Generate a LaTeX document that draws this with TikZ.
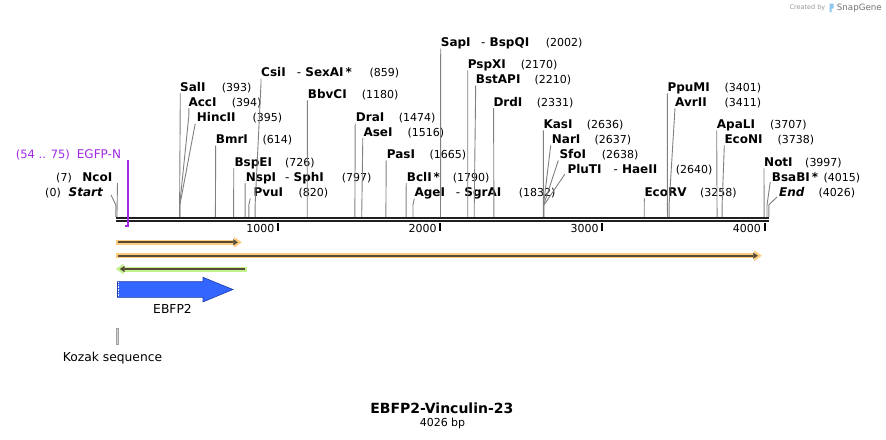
\documentclass[tikz,border=0pt]{standalone}
\usepackage{fontspec}
\setmainfont{DejaVu Sans}
\usetikzlibrary{arrows.meta,calc,positioning}
\definecolor{primerpurple}{RGB}{160,40,230}
\definecolor{orfband}{RGB}{255,204,128}
\definecolor{orfgreen}{RGB}{194,240,140}
\definecolor{orfdark}{RGB}{85,75,55}
\definecolor{ebfpblue}{RGB}{51,102,255}
\definecolor{ebfpedge}{RGB}{30,60,170}
\definecolor{logoblue}{RGB}{140,200,240}
\tikzset{
    enz/.style={font=\fontsize{12}{14}\selectfont\bfseries, inner sep=0pt, anchor=base west},
    endmark/.style={enz, font=\fontsize{12}{14}\selectfont\bfseries\itshape},
    bpnum/.style={font=\fontsize{11}{13}\selectfont, inner sep=0pt, anchor=base west},
    siteline/.style={draw=black!50, line width=0.9pt},
    strand/.style={draw=black!88, line width=2.3pt},
    tickmark/.style={draw=black, line width=2pt},
    featlabel/.style={font=\fontsize{12.3}{14}\selectfont, inner sep=0pt},
    primer/.style={draw=primerpurple, line width=1.8pt},
    orfwide/.style={draw=#1, line width=5pt, -{Triangle[width=10.5pt,length=7.5pt,line width=0.1pt]}},
    orfthin/.style={draw=orfdark, line width=2pt, -{Triangle[width=6pt,length=4.5pt,line width=0.1pt]}}
}

\begin{document}
\begin{tikzpicture}[x=1pt, y=-1pt]
    \useasboundingbox[fill=white] (0,0) rectangle (886,439);

    % positions on the backbone
    \foreach \bp in {0,7,393,394,395,614,726,797,820,859,1180,1474,1516,1665,1790,1832,
                     2002,2170,2210,2331,2636,2637,2638,2640,3258,3401,3411,3707,3738,3997,4015,4026} {
        \coordinate (c\bp) at ({115.8+0.1622*\bp},216.8);
        \coordinate (k\bp) at ({115.8+0.1622*\bp},205);
    }

    % backbone
    \coordinate (bbleft) at (116,217.8);
    \coordinate (bbright) at (769,217.8);
    \draw[strand] (bbleft) -- (bbright);
    \draw[strand] ([yshift=-3.4pt]bbleft) -- ([yshift=-3.4pt]bbright);
    \foreach \t in {1000,2000,3000,4000} {
        \draw[tickmark] ({115.8+0.1622*\t},222.5) -- ++(0,8);
        \node[bpnum, anchor=base east] (tl\t) at ({112.3+0.1622*\t},232.5) {\t};
    }

    % ends
    \node[endmark, anchor=base east] (start) at (103,196.4) {Start};
    \node[bpnum, anchor=base east] (startbp) at (61,196.4) {(0)};
    \draw[siteline] (start.base east) ++(8,-1.5) -- (k0) -- (c0);
    \node[endmark] (endsite) at (779,196.4) {End};
    \node[bpnum] (endsitebp) at (818.3,196.4) {(4026)};
    \draw[siteline] (endsite.base west) ++(-2,0.5) -- (k4026) -- (c4026);

    % primer
    \node[bpnum, font=\fontsize{11.5}{13}\selectfont, text=primerpurple] (egfpNbp) at (15.7,158.4) {(54 .. 75)};
    \node[bpnum, font=\fontsize{12}{14}\selectfont, text=primerpurple] (egfpN) at (76.7,158.4) {EGFP-N};
    \coordinate (pr75) at (128.3,226.3);
    \coordinate (pr54) at (124.8,226.3);
    \draw[primer] (pr75 |- egfpN.base) ++(0,1.5) -- (pr75) -- (pr54);

    % enzyme sites
    \node[enz, anchor=base east] (ncoI) at (112.5,181.1) {NcoI};
    \node[bpnum, anchor=base east] (ncoIbp) at (72,181.1) {(7)};
    \draw[siteline] (ncoI.base east) ++(5,2) -- (c7);

    \node[enz] (salI) at (180,91.3) {SalI};
    \node[bpnum] (salIbp) at (221.7,91.3) {(393)};
    \draw[siteline] (salI.base west) ++(0.3,2) -- (c393);
    \node[enz] (accI) at (188.3,106.2) {AccI};
    \node[bpnum] (accIbp) at (231.7,106.2) {(394)};
    \draw[siteline] (accI.base west) ++(0.5,2) -- ++(0,8) -- (k394) -- (c394);
    \node[enz] (hincII) at (196.7,121.7) {HincII};
    \node[bpnum] (hincIIbp) at (252.3,121.7) {(395)};
    \draw[siteline] (hincII.base west) ++(-1.5,2) -- (k395) -- (c395);
    \node[enz] (bmrI) at (215.7,143.4) {BmrI};
    \node[bpnum] (bmrIbp) at (262.3,143.4) {(614)};
    \draw[siteline] (bmrI.base west) ++(0,2) -- (c614);
    \node[enz] (bspEI) at (234.3,166.4) {BspEI};
    \node[bpnum] (bspEIbp) at (285,166.4) {(726)};
    \draw[siteline] (bspEI.base west) ++(-0.5,2) -- (c726);
    \node[enz] (nspI) at (245.7,181.1) {NspI};
    \node[enz] (sphI) at (285,181.1) {{\mdseries -}~SphI};
    \node[bpnum] (nspIbp) at (341.7,181.1) {(797)};
    \draw[siteline] (nspI.base west) ++(-0.5,2) -- (c797);
    \node[enz] (pvuI) at (253.3,196.4) {PvuI};
    \node[bpnum] (pvuIbp) at (298.3,196.4) {(820)};
    \draw[siteline] (pvuI.base west) ++(-3,2) -- (k820) -- (c820);
    \node[enz] (csiI) at (261,76.7) {CsiI};
    \node[enz] (sexAI) at (296.7,76.7) {{\mdseries -}~SexAI\,*};
    \node[bpnum] (csiIbp) at (369.3,76.7) {(859)};
    \draw[siteline] (csiI.base west) ++(0,2) -- ++(0,5) -- (k859) -- (c859);
    \node[enz] (bbvCI) at (307.7,98.4) {BbvCI};
    \node[bpnum] (bbvCIbp) at (361.7,98.4) {(1180)};
    \draw[siteline] (bbvCI.base west) ++(-0.3,2) -- (c1180);
    \node[enz] (draI) at (355.7,121.7) {DraI};
    \node[bpnum] (draIbp) at (398.7,121.7) {(1474)};
    \draw[siteline] (draI.base west) ++(-0.5,2) -- (c1474);
    \node[enz] (aseI) at (363.3,136.1) {AseI};
    \node[bpnum] (aseIbp) at (407.3,136.1) {(1516)};
    \draw[siteline] (aseI.base west) ++(-0.5,2) -- (c1516);
    \node[enz] (pasI) at (386.7,158.4) {PasI};
    \node[bpnum] (pasIbp) at (429.3,158.4) {(1665)};
    \draw[siteline] (pasI.base west) ++(-0.5,2) -- (c1665);
    \node[enz] (bclI) at (406.7,181.1) {BclI\,*};
    \node[bpnum] (bclIbp) at (452.7,181.1) {(1790)};
    \draw[siteline] (bclI.base west) ++(-0.5,2) -- (c1790);
    \node[enz] (ageI) at (414.3,196.4) {AgeI};
    \node[enz] (sgrAI) at (455.7,196.4) {{\mdseries -}~SgrAI};
    \node[bpnum] (ageIbp) at (518.7,196.4) {(1832)};
    \draw[siteline] (ageI.base west) ++(0,2) -- (k1832) -- (c1832);
    \node[enz] (sapI) at (440.7,46.7) {SapI};
    \node[enz] (bspQI) at (481,46.7) {{\mdseries -}~BspQI};
    \node[bpnum] (sapIbp) at (545.7,46.7) {(2002)};
    \draw[siteline] (sapI.base west) ++(0,2) -- (c2002);
    \node[enz] (pspXI) at (467.7,68.4) {PspXI};
    \node[bpnum] (pspXIbp) at (520.7,68.4) {(2170)};
    \draw[siteline] (pspXI.base west) ++(0,2) -- (c2170);
    \node[enz] (bstAPI) at (475.7,83.4) {BstAPI};
    \node[bpnum] (bstAPIbp) at (534.3,83.4) {(2210)};
    \draw[siteline] (bstAPI.base west) ++(0,2) -- (k2210) -- (c2210);
    \node[enz] (drdI) at (493.3,106.2) {DrdI};
    \node[bpnum] (drdIbp) at (536.7,106.2) {(2331)};
    \draw[siteline] (drdI.base west) ++(0.3,2) -- (c2331);
    \node[enz] (kasI) at (543.3,128.4) {KasI};
    \node[bpnum] (kasIbp) at (586.7,128.4) {(2636)};
    \draw[siteline] (kasI.base west) ++(0,2) -- (c2636);
    \node[enz] (narI) at (551.7,143.4) {NarI};
    \node[bpnum] (narIbp) at (594.3,143.4) {(2637)};
    \draw[siteline] (narI.base west) ++(-1,2) -- (k2637) -- (c2637);
    \node[enz] (sfoI) at (559.3,158.4) {SfoI};
    \node[bpnum] (sfoIbp) at (601.7,158.4) {(2638)};
    \draw[siteline] (sfoI.base west) ++(-1,2) -- (k2638) -- (c2638);
    \node[enz] (pluTI) at (567.3,173.2) {PluTI};
    \node[enz] (haeII) at (613.3,173.2) {{\mdseries -}~HaeII};
    \node[bpnum] (pluTIbp) at (675.7,173.2) {(2640)};
    \draw[siteline] (pluTI.base west) ++(-2.5,1) -- (k2640) -- (c2640);
    \node[enz] (ecoRV) at (644.3,196.4) {EcoRV};
    \node[bpnum] (ecoRVbp) at (700,196.4) {(3258)};
    \draw[siteline] (ecoRV.base west) ++(0,2) -- (c3258);
    \node[enz] (ppuMI) at (667.3,91.3) {PpuMI};
    \node[bpnum] (ppuMIbp) at (724.3,91.3) {(3401)};
    \draw[siteline] (ppuMI.base west) ++(0,2) -- (c3401);
    \node[enz] (avrII) at (675,106.2) {AvrII};
    \node[bpnum] (avrIIbp) at (724.3,106.2) {(3411)};
    \draw[siteline] (avrII.base west) ++(0,2) -- (k3411) -- (c3411);
    \node[enz] (apaLI) at (716.7,128.4) {ApaLI};
    \node[bpnum] (apaLIbp) at (770,128.4) {(3707)};
    \draw[siteline] (apaLI.base west) ++(0,2) -- (c3707);
    \node[enz] (ecoNI) at (724.3,143.4) {EcoNI};
    \node[bpnum] (ecoNIbp) at (777.3,143.4) {(3738)};
    \draw[siteline] (ecoNI.base west) ++(0,2) -- (k3738) -- (c3738);
    \node[enz] (notI) at (764,166.4) {NotI};
    \node[bpnum] (notIbp) at (805,166.4) {(3997)};
    \draw[siteline] (notI.base west) ++(0,2) -- (c3997);
    \node[enz] (bsaBI) at (771.7,181.1) {BsaBI\,*};
    \node[bpnum] (bsaBIbp) at (823.3,181.1) {(4015)};
    \draw[siteline] (bsaBI.base west) ++(-1.5,1) -- (k4015) -- (c4015);

    % open reading frames
    \coordinate (orfAs) at (116,242.3);
    \coordinate (orfAe) at (241.7,242.3);
    \coordinate (orfBs) at (116,255.7);
    \coordinate (orfBe) at (761.7,255.7);
    \coordinate (orfCs) at (246.7,269);
    \coordinate (orfCe) at (116,269);
    \draw[orfwide=orfband] (orfAs) -- (orfAe);
    \draw[orfthin] ([xshift=1.5pt]orfAs) -- ([xshift=-4pt]orfAe);
    \draw[orfwide=orfband] (orfBs) -- (orfBe);
    \draw[orfthin] ([xshift=1.5pt]orfBs) -- ([xshift=-4pt]orfBe);
    \draw[orfwide=orfgreen] (orfCs) -- (orfCe);
    \draw[orfthin] ([xshift=-1.5pt]orfCs) -- ([xshift=4pt]orfCe);

    % features
    \filldraw[fill=ebfpblue, draw=ebfpedge, line width=0.6pt]
        (117.5,281.7) -- (203,281.7) -- (203,277.3) -- (233,289.5) -- (203,301.9) -- (203,297.3) -- (117.5,297.3) -- cycle;
    \draw[white, line width=0.8pt, dash pattern=on 0.8pt off 0.8pt] (118.2,282.4) -- (118.2,296.6);
    \node[featlabel] (ebfp2) at (172.5,308.5) {EBFP2};
    \filldraw[fill=gray!35, draw=gray!75, line width=0.6pt] (116.7,328.3) rectangle (118.7,344);
    \node[featlabel, anchor=base] (kozak) at (112.5,361.3) {Kozak sequence};

    % title
    \node[font=\fontsize{14}{16}\selectfont\bfseries, inner sep=0pt] (title) at (441.8,408.3) {EBFP2-Vinculin-23};
    \node[font=\fontsize{11}{13}\selectfont, inner sep=0pt, anchor=base] (seqlen) at (442.5,426) {4026 bp};

    % credit
    \node[font=\fontsize{6.5}{8}\selectfont, text=black!40, inner sep=0pt, anchor=base west] (created) at (789.3,9.5) {Created by};
    \fill[logoblue] (829.5,3.5) -- (833.5,3.5) -- (833.5,8) -- (831.5,9) -- (831.5,12) -- (829.5,12) -- cycle;
    \node[font=\fontsize{8.7}{10}\selectfont, text=black!55, inner sep=0pt, anchor=base west] (snapgene) at (836.7,10.7) {SnapGene};
\end{tikzpicture}
\end{document}
